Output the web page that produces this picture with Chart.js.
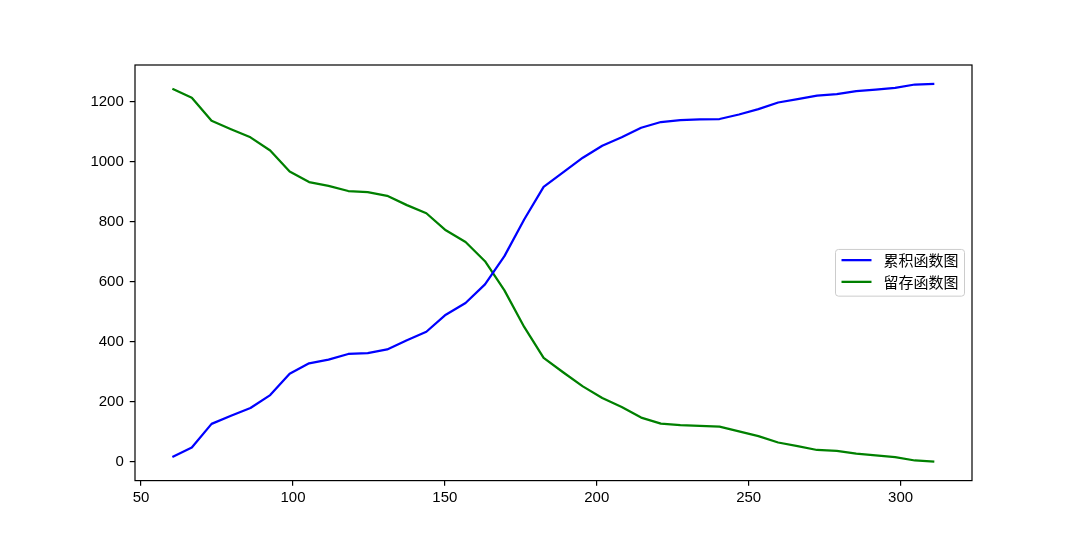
<!DOCTYPE html>
<html>
<head>
<meta charset="utf-8">
<title>累积函数图 / 留存函数图</title>
<script src="https://cdn.jsdelivr.net/npm/chart.js@4/dist/chart.umd.min.js"></script>
<style>
  html, body { margin: 0; padding: 0; background: #fff; }
  #wrap { width: 1080px; height: 540px; }
</style>
</head>
<body>
<div id="wrap"><canvas id="myChart" width="1080" height="540"></canvas></div>
<script>
var xValues = [60.3, 66.7, 73.2, 79.6, 86.0, 92.5, 98.9, 105.3, 111.7, 118.2,
  124.6, 131.0, 137.5, 143.9, 150.3, 156.8, 163.2, 169.6, 176.1, 182.5,
  188.9, 195.4, 201.8, 208.2, 214.6, 221.1, 227.5, 233.9, 240.4, 246.8,
  253.2, 259.7, 266.1, 272.5, 279.0, 285.4, 291.8, 298.2, 304.7, 311.1];
var cumulative = [17, 48, 127, 154, 180, 223, 294, 329, 341, 360,
  363, 375, 406, 434, 491, 530, 592, 686, 808, 917,
  965, 1014, 1054, 1082, 1114, 1133, 1139, 1142, 1143, 1158,
  1176, 1198, 1209, 1221, 1226, 1236, 1241, 1247, 1258, 1260];
var survival = [1244, 1214, 1137, 1109, 1082, 1038, 968, 933, 920, 903,
  899, 887, 856, 829, 772, 733, 669, 572, 450, 347,
  299, 252, 213, 183, 148, 128, 123, 120, 118, 102,
  86, 65, 53, 40, 37, 28, 22, 16, 5, 1];
var seriesNames = ['累积函数图', '留存函数图'];
var xTicks = [50, 100, 150, 200, 250, 300];
var yTicks = [0, 200, 400, 600, 800, 1000, 1200];

var tickFont = { family: '"Liberation Sans", Arial, sans-serif', size: 15 };
var legendFont = '15px "Noto Sans CJK SC", sans-serif';

function toPoints(ys) {
  var pts = [];
  for (var i = 0; i < ys.length; i++) {
    pts.push({ x: xValues[i], y: ys[i] });
  }
  return pts;
}

function plainLabel(value) {
  return String(value);
}

// frame on all four sides plus a matplotlib-like legend at center right
var frameAndLegend = {
  id: 'frameAndLegend',
  afterDatasetsDraw: function(chart) {
    var ctx = chart.ctx;
    var a = chart.chartArea;
    ctx.save();
    ctx.strokeStyle = '#000';
    ctx.lineWidth = 1.2;
    ctx.strokeRect(a.left, a.top, a.right - a.left, a.bottom - a.top);

    var sets = chart.data.datasets;
    ctx.font = legendFont;
    var textW = 0;
    for (var i = 0; i < sets.length; i++) {
      textW = Math.max(textW, ctx.measureText(sets[i].label).width);
    }
    var pad = 6, handle = 30, gap = 12, rowStep = 21.7;
    var w = pad + handle + gap + textW + pad;
    var h = 46.7;
    var x = a.right - 7.5 - w;
    var y = (a.top + a.bottom) / 2 - h / 2;

    ctx.beginPath();
    ctx.roundRect(x, y, w, h, 3);
    ctx.fillStyle = 'rgba(255,255,255,0.8)';
    ctx.fill();
    ctx.strokeStyle = '#cccccc';
    ctx.lineWidth = 1;
    ctx.stroke();

    ctx.textBaseline = 'middle';
    ctx.textAlign = 'left';
    for (var j = 0; j < sets.length; j++) {
      var cy = y + 10.7 + j * rowStep;
      ctx.beginPath();
      ctx.moveTo(x + pad, cy);
      ctx.lineTo(x + pad + handle, cy);
      ctx.strokeStyle = sets[j].borderColor;
      ctx.lineWidth = 2.25;
      ctx.stroke();
      ctx.fillStyle = '#000';
      ctx.fillText(sets[j].label, x + pad + handle + gap, cy);
    }
    ctx.restore();
  }
};

var ctx = document.getElementById('myChart').getContext('2d');
var myChart = new Chart(ctx, {
  type: 'line',
  data: {
    datasets: [{
      label: seriesNames[0],
      data: toPoints(cumulative),
      borderColor: '#0000ff',
      borderWidth: 2.25,
      pointRadius: 0,
      tension: 0,
      borderJoinStyle: 'round',
      fill: false
    },
    {
      label: seriesNames[1],
      data: toPoints(survival),
      borderColor: '#008000',
      borderWidth: 2.25,
      pointRadius: 0,
      tension: 0,
      borderJoinStyle: 'round',
      fill: false
    }]
  },
  options: {
    responsive: false,
    animation: false,
    devicePixelRatio: 1,
    layout: { padding: { top: 65, right: 108, left: 0, bottom: 0 } },
    plugins: {
      legend: { display: false },
      tooltip: { enabled: false }
    },
    scales: {
      x: {
        type: 'linear',
        min: 48,
        max: 323.5,
        afterBuildTicks: function(scale) {
          scale.ticks = xTicks.map(function(v) { return { value: v }; });
        },
        afterFit: function(scale) { scale.height = 59.4; },
        border: { display: false },
        grid: { display: true, drawOnChartArea: false, drawTicks: true, tickLength: 5.25, color: '#000', lineWidth: 1.2 },
        ticks: { autoSkip: false, maxRotation: 0, padding: 3, color: '#000', font: tickFont, callback: plainLabel }
      },
      y: {
        type: 'linear',
        min: -62,
        max: 1323,
        afterBuildTicks: function(scale) {
          scale.ticks = yTicks.map(function(v) { return { value: v }; });
        },
        afterFit: function(scale) { scale.width = 135; },
        border: { display: false },
        grid: { display: true, drawOnChartArea: false, drawTicks: true, tickLength: 5.25, color: '#000', lineWidth: 1.2 },
        ticks: { autoSkip: false, padding: 6, color: '#000', font: tickFont, callback: plainLabel }
      }
    }
  },
  plugins: [frameAndLegend]
});
</script>
</body>
</html>
